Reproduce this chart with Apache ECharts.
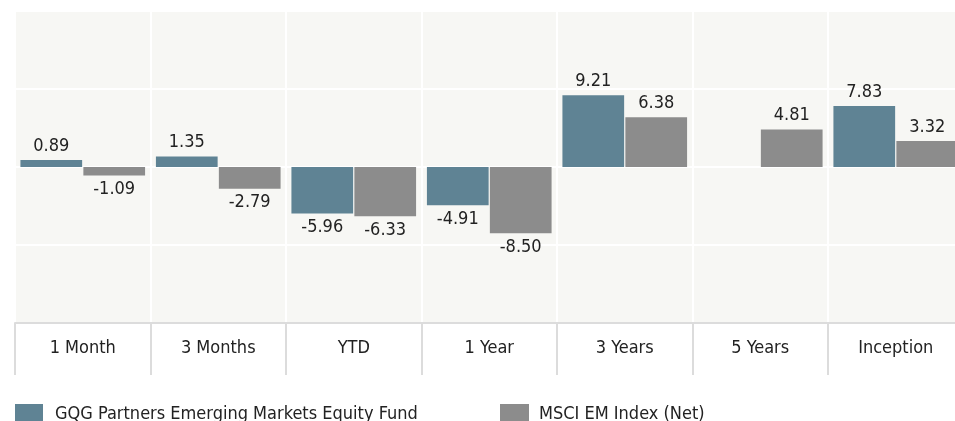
<!DOCTYPE html>
<html>
<head>
<meta charset="utf-8">
<script src="https://cdn.jsdelivr.net/npm/echarts@6/dist/echarts.min.js"></script>
<style>
  html, body { margin: 0; padding: 0; background: #fff; overflow: hidden; }
  #chart { width: 964px; height: 421px; }
</style>
</head>
<body>
<div id="chart"></div>
<script>
// periods and returns (%)
const periods = ['1 Month', '3 Months', 'YTD', '1 Year', '3 Years', '5 Years', 'Inception'];
const fundName = 'GQG Partners Emerging Markets Equity Fund';
const indexName = 'MSCI EM Index (Net)';
const fundReturns = [0.89, 1.35, -5.96, -4.91, 9.21, null, 7.83];
const indexReturns = [-1.09, -2.79, -6.33, -8.50, 6.38, 4.81, 3.32];

const FONT = '"DejaVu Sans Condensed", "Liberation Sans Narrow", sans-serif';

// positive labels above the bar, negative labels below
function withLabels(values) {
  return values.map(v => ({
    value: v,
    label: {position: v < 0 ? 'bottom' : 'top'}
  }));
}

const chart = echarts.init(document.getElementById('chart'));
chart.setOption({
  animation: false,
  grid: {
    left: 15, right: 0.5, top: 11, bottom: 98,
    show: true, backgroundColor: '#f7f7f4', borderWidth: 0
  },
  legend: [
    {
      data: [fundName], left: 10, top: 399,
      itemWidth: 28, itemHeight: 20, icon: 'rect',
      textStyle: {fontFamily: FONT, fontSize: 18, color: '#222', padding: [0, 0, 0, 7]}
    },
    {
      data: [indexName], left: 495, top: 399,
      itemWidth: 29, itemHeight: 20, icon: 'rect',
      textStyle: {fontFamily: FONT, fontSize: 18, color: '#222', padding: [0, 0, 0, 5]}
    }
  ],
  xAxis: {
    type: 'category',
    data: periods,
    axisLine: {show: true, onZero: false, lineStyle: {color: '#dcdcdc', width: 2}},
    axisTick: {show: true, length: 52, lineStyle: {color: '#dcdcdc', width: 2}},
    axisLabel: {fontFamily: FONT, fontSize: 18, color: '#222', margin: 16},
    splitLine: {show: true, lineStyle: {color: '#ffffff', width: 2}}
  },
  yAxis: {
    type: 'value',
    min: -20, max: 20, interval: 10,
    axisLine: {show: false},
    axisTick: {show: false},
    axisLabel: {show: false},
    splitLine: {show: true, lineStyle: {color: '#ffffff', width: 2}}
  },
  series: [
    {
      name: fundName,
      type: 'bar',
      data: withLabels(fundReturns),
      itemStyle: {color: '#5f8394'},
      barGap: '2%',
      barCategoryGap: '8%',
      label: {
        show: true, distance: 5,
        fontFamily: FONT, fontSize: 18, color: '#222',
        formatter: p => p.value == null ? '' : p.value.toFixed(2)
      }
    },
    {
      name: indexName,
      type: 'bar',
      data: withLabels(indexReturns),
      itemStyle: {color: '#8c8c8c'},
      barGap: '2%',
      barCategoryGap: '8%',
      label: {
        show: true, distance: 5,
        fontFamily: FONT, fontSize: 18, color: '#222',
        formatter: p => p.value.toFixed(2)
      }
    }
  ]
});
</script>
</body>
</html>
